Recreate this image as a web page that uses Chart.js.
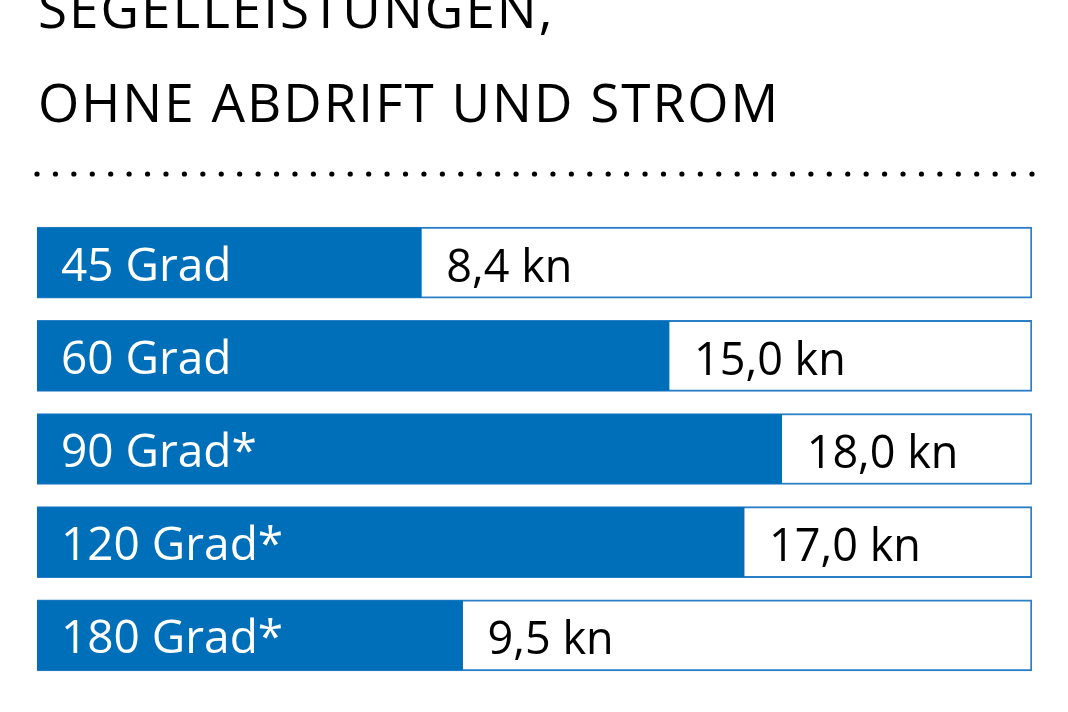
<!DOCTYPE html>
<html>
<head>
<meta charset="utf-8">
<script src="https://cdn.jsdelivr.net/npm/chart.js@4"></script>
<style>
  html, body { margin: 0; padding: 0; background: #fff; }
  #wrap { width: 1068px; height: 712px; }
</style>
</head>
<body>
<div id="wrap"><canvas id="sailChart" width="1068" height="712"></canvas></div>
<script>
// Daten
const titleLines = ["SEGELLEISTUNGEN,", "OHNE ABDRIFT UND STROM"];
const categories = ["45 Grad", "60 Grad", "90 Grad*", "120 Grad*", "180 Grad*"];
const speeds = [8.4, 15.0, 18.0, 17.0, 9.5]; // kn
const speedLabels = speeds.map(v => v.toFixed(1).replace(".", ",") + " kn");

// Achsenbereich (Balken starten nicht bei 0 in der Grafik)
const X_MIN = -1.84;
const X_MAX = 24.67;

const BLUE = "#006fb9";
const FRAME = "#2a7ec6";

// Titel, Punktlinie und Beschriftungen
const overlay = {
  id: "overlay",
  afterDraw(chart) {
    const ctx = chart.ctx;
    const area = chart.chartArea;
    ctx.save();

    // Titel
    ctx.fillStyle = "#000";
    ctx.font = "53px 'Open Sans'";
    ctx.letterSpacing = "2px";
    ctx.textAlign = "left";
    ctx.textBaseline = "alphabetic";
    ctx.fillText(titleLines[0], 38, 28);
    ctx.fillText(titleLines[1], 38, 122);
    ctx.letterSpacing = "0px";

    // Punktlinie
    const dots = 55;
    const step = (area.right - area.left) / (dots - 1);
    for (let i = 0; i < dots; i++) {
      ctx.beginPath();
      ctx.arc(area.left + i * step, 174, 2.6, 0, Math.PI * 2);
      ctx.fill();
    }

    // Beschriftungen der Balken
    const meta = chart.getDatasetMeta(0);
    meta.data.forEach((bar, i) => {
      ctx.fillStyle = "#fff";
      ctx.font = "46px 'Open Sans'";
      ctx.fillText(categories[i], area.left + 24, bar.y + 18);

      ctx.fillStyle = "#000";
      ctx.font = "45px 'Open Sans'";
      ctx.fillText(speedLabels[i], bar.x + 25, bar.y + 19);
    });

    ctx.restore();
  }
};

const ctx = document.getElementById("sailChart").getContext("2d");
new Chart(ctx, {
  type: "bar",
  data: {
    labels: categories,
    datasets: [
      {
        label: "Geschwindigkeit",
        data: speeds,
        base: X_MIN,
        backgroundColor: BLUE,
        borderWidth: 0,
        barThickness: 69,
        grouped: false
      },
      {
        label: "Rahmen",
        data: categories.map(() => X_MAX),
        base: X_MIN,
        backgroundColor: "#fff",
        borderColor: FRAME,
        borderWidth: 2,
        borderSkipped: false,
        barThickness: 71,
        grouped: false
      }
    ]
  },
  options: {
    indexAxis: "y",
    responsive: false,
    animation: false,
    layout: { padding: { left: 37, right: 36, top: 216, bottom: 30 } },
    scales: {
      x: { display: false, min: X_MIN, max: X_MAX },
      y: { display: false }
    },
    plugins: {
      legend: { display: false },
      tooltip: { enabled: false },
      title: { display: false }
    }
  },
  plugins: [overlay]
});
</script>
</body>
</html>
